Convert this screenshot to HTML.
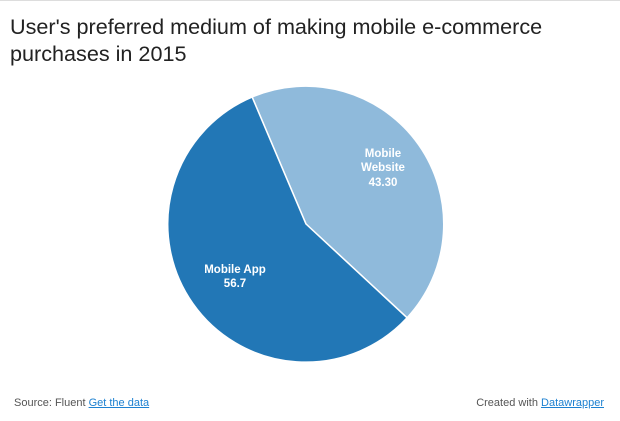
<!DOCTYPE html>
<html><head><meta charset="utf-8"><style>
body{margin:0;width:620px;height:421px;background:#fff;font-family:"Liberation Sans",Arial,sans-serif;position:relative;overflow:hidden}
.t{position:absolute;left:10px;top:13px;font-size:21.6px;line-height:27px;color:#222;width:600px}
.f{position:absolute;top:397px;font-size:11px;color:#555}
.f a{color:#1d81d1;text-decoration:underline}
</style></head><body>
<div style="position:absolute;left:0;top:0;width:620px;height:1px;background:#ddd"></div>
<div class="t">User's preferred medium of making mobile e-commerce purchases in 2015</div>
<svg style="position:absolute;left:0;top:0" width="620" height="421">
<path d="M306 224 L252.1 97 A138 138 0 0 1 407.1 317.8 Z" fill="#8fbadb" stroke="#fff" stroke-width="1.5"/>
<path d="M306 224 L407.1 317.8 A138 138 0 1 1 252.1 97 Z" fill="#2277b6" stroke="#fff" stroke-width="1.5"/>
<g font-family="Liberation Sans,Arial,sans-serif" font-size="11.5" font-weight="bold" fill="#fff" text-anchor="middle">
<text x="383" y="157">Mobile</text><text x="383" y="171">Website</text><text x="383" y="186">43.30</text>
<text x="235" y="273">Mobile App</text><text x="235" y="287">56.7</text>
</g>
</svg>
<div class="f" style="left:14px">Source: Fluent <a>Get the data</a></div>
<div class="f" style="right:16px">Created with <a>Datawrapper</a></div>
</body></html>
